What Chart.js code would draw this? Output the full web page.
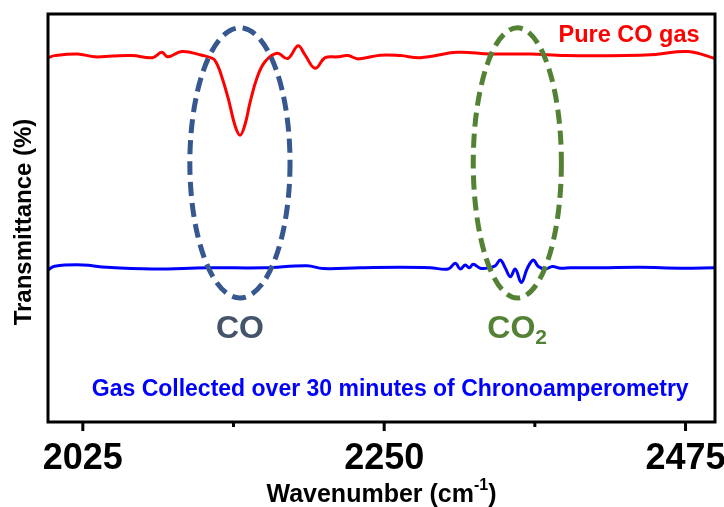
<!DOCTYPE html>
<html>
<head>
<meta charset="utf-8">
<script src="https://cdn.jsdelivr.net/npm/chart.js@4.4.0/dist/chart.umd.min.js"></script>
<style>
  body { margin: 0; background: #fff; }
  canvas { display: block; }
</style>
</head>
<body>
<canvas id="ftirChart" width="724" height="507"></canvas>
<script>
// Pure CO gas spectrum (red)
const redWavenumber = [1999, 2004, 2021, 2034, 2047, 2062, 2077, 2084, 2088.5, 2099, 2114, 2122, 2124.5, 2127.5, 2133.5, 2138.5, 2142.4, 2146, 2150, 2155, 2161, 2170, 2178, 2185.7, 2191, 2198.4, 2206, 2215, 2223, 2230.6, 2247, 2262, 2277, 2304.6, 2329, 2359, 2385, 2430, 2452.6, 2477, 2497];
const redValues = [89.3, 89.8, 90.2, 89.5, 89.7, 89.8, 89.3, 90.6, 89.5, 90.8, 89.9, 89.1, 88.2, 85.9, 79.4, 72.8, 70.3, 72.8, 78.5, 84.3, 88.3, 90.4, 89.1, 92.2, 89.9, 86.7, 89.3, 89.5, 89.8, 89.0, 89.9, 89.8, 89.3, 90.6, 90.2, 90.2, 89.8, 89.8, 90.1, 90.8, 89.1];

// Gas collected over 30 minutes (blue)
const blueWavenumber = [1999, 2004, 2025, 2043, 2077, 2118, 2160, 2192.4, 2204.4, 2232, 2262, 2284.4, 2297.8, 2303.1, 2306.8, 2310.5, 2313.5, 2316.5, 2321.8, 2327.7, 2333, 2336.7, 2340.5, 2344.2, 2347.9, 2352.4, 2356.9, 2361.4, 2365.1, 2370.3, 2375.6, 2381.6, 2389, 2411.5, 2441.4, 2471.3, 2497];
const blueValues = [37.3, 38.2, 38.5, 37.9, 37.5, 37.8, 37.8, 38.3, 37.6, 37.8, 37.9, 37.8, 37.5, 38.9, 37.5, 38.5, 37.8, 38.65, 37.7, 37.75, 38.3, 39.7, 37.7, 35.6, 37.5, 34.2, 37.7, 39.7, 38.1, 37.5, 38.1, 37.7, 37.8, 37.8, 37.9, 37.7, 37.8];

// x axis ticks
const majorTicks = [2025, 2250, 2475];
const majorTickLabels = ['2025', '2250', '2475'];
const minorTicks = [2137.5, 2362.5];

// annotations (in data units)
const coEllipse = { cx: 2142.3, cy: 63.5, rx: 37.4, ry: 33.1, color: '#36578f' };
const co2Ellipse = { cx: 2349.4, cy: 63.5, rx: 32.9, ry: 33.1, color: '#548235' };

const toPoints = (xs, ys) => xs.map((x, i) => ({ x: x, y: ys[i] }));

const SANS = '"Liberation Sans", Arial, sans-serif';
const NARROW = '"Liberation Sans Narrow", "Liberation Sans", sans-serif';

// Frame, ticks, ellipses and labels
const decorPlugin = {
  id: 'decor',
  afterDatasetsDraw(chart) {
    const ctx = chart.ctx;
    const area = chart.chartArea;
    const xs = chart.scales.x;
    const ys = chart.scales.y;

    ctx.save();
    // dashed ellipses
    [coEllipse, co2Ellipse].forEach(e => {
      const cx = xs.getPixelForValue(e.cx);
      const cy = ys.getPixelForValue(e.cy);
      const rx = Math.abs(xs.getPixelForValue(e.cx + e.rx) - cx);
      const ry = Math.abs(ys.getPixelForValue(e.cy + e.ry) - cy);
      ctx.beginPath();
      ctx.setLineDash([14, 7]);
      ctx.lineWidth = 5;
      ctx.strokeStyle = e.color;
      ctx.ellipse(cx, cy, rx, ry, 0, 0, Math.PI * 2);
      ctx.stroke();
    });
    ctx.setLineDash([]);

    // frame
    ctx.lineWidth = 3;
    ctx.strokeStyle = '#000';
    ctx.strokeRect(area.left, area.top, area.right - area.left, area.bottom - area.top);

    // ticks + tick labels
    ctx.fillStyle = '#000';
    ctx.font = 'bold 36px ' + NARROW;
    ctx.textAlign = 'center';
    ctx.textBaseline = 'alphabetic';
    majorTicks.forEach((v, i) => {
      const px = xs.getPixelForValue(v);
      ctx.beginPath();
      ctx.moveTo(px, area.bottom);
      ctx.lineTo(px, area.bottom + 9);
      ctx.stroke();
      ctx.fillText(majorTickLabels[i], px, area.bottom + 47);
    });
    minorTicks.forEach(v => {
      const px = xs.getPixelForValue(v);
      ctx.beginPath();
      ctx.moveTo(px, area.bottom);
      ctx.lineTo(px, area.bottom + 5);
      ctx.stroke();
    });

    // text labels
    ctx.fillStyle = '#ff0000';
    ctx.font = 'bold 23.5px ' + SANS;
    ctx.textAlign = 'right';
    ctx.fillText('Pure CO gas', xs.getPixelForValue(2485.5), ys.getPixelForValue(93.1));

    ctx.fillStyle = '#0000ff';
    ctx.font = 'bold 23px ' + SANS;
    ctx.textAlign = 'center';
    ctx.fillText('Gas Collected over 30 minutes of Chronoamperometry', xs.getPixelForValue(2254.5), ys.getPixelForValue(6.3));

    ctx.fillStyle = '#44546a';
    ctx.font = 'bold 32px ' + SANS;
    ctx.fillText('CO', xs.getPixelForValue(coEllipse.cx), ys.getPixelForValue(20.5));

    ctx.fillStyle = '#548235';
    ctx.textAlign = 'left';
    const coW = ctx.measureText('CO').width;
    const co2X = xs.getPixelForValue(co2Ellipse.cx) - (coW + 12) / 2;
    const co2Y = ys.getPixelForValue(20.5);
    ctx.fillText('CO', co2X, co2Y);
    ctx.font = 'bold 21px ' + SANS;
    ctx.fillText('2', co2X + coW, co2Y + 6);

    // axis titles
    ctx.fillStyle = '#000';
    ctx.font = 'bold 24px ' + SANS;
    ctx.textAlign = 'center';
    ctx.textBaseline = 'middle';
    ctx.save();
    ctx.translate(24, (area.top + area.bottom) / 2 + 4);
    ctx.rotate(-Math.PI / 2);
    ctx.fillText('Transmittance (%)', 0, 0);
    ctx.restore();

    ctx.textBaseline = 'alphabetic';
    ctx.textAlign = 'left';
    const mainText = 'Wavenumber (cm';
    ctx.font = 'bold 25px ' + NARROW;
    const mainW = ctx.measureText(mainText).width;
    ctx.font = 'bold 16px ' + NARROW;
    const supW = ctx.measureText('-1').width;
    ctx.font = 'bold 25px ' + NARROW;
    const closeW = ctx.measureText(')').width;
    const startX = (area.left + area.right) / 2 - (mainW + supW + closeW) / 2;
    const baseY = 502;
    ctx.fillText(mainText, startX, baseY);
    ctx.font = 'bold 16px ' + NARROW;
    ctx.fillText('-1', startX + mainW, baseY - 12);
    ctx.font = 'bold 25px ' + NARROW;
    ctx.fillText(')', startX + mainW + supW, baseY);
    ctx.restore();
  }
};

const ctx = document.getElementById('ftirChart').getContext('2d');

const ftirChart = new Chart(ctx, {
  type: 'line',
  data: {
    datasets: [{
      label: 'Pure CO gas',
      data: toPoints(redWavenumber, redValues),
      borderColor: '#ff0000',
      borderWidth: 3,
      pointRadius: 0,
      tension: 0.4,
      fill: false
    }, {
      label: 'Gas Collected over 30 minutes of Chronoamperometry',
      data: toPoints(blueWavenumber, blueValues),
      borderColor: '#0000ff',
      borderWidth: 3,
      pointRadius: 0,
      tension: 0.4,
      fill: false
    }]
  },
  options: {
    responsive: false,
    animation: false,
    devicePixelRatio: 1,
    plugins: {
      legend: { display: false },
      tooltip: { enabled: false }
    },
    layout: {
      padding: { top: 14, right: 9, left: 0, bottom: 0 }
    },
    scales: {
      x: {
        type: 'linear',
        min: 1999,
        max: 2497,
        afterFit: scale => { scale.height = 85; },
        grid: { display: false, drawTicks: false },
        border: { display: false },
        ticks: { display: false }
      },
      y: {
        min: 0,
        max: 100,
        afterFit: scale => { scale.width = 48; },
        grid: { display: false, drawTicks: false },
        border: { display: false },
        ticks: { display: false }
      }
    }
  },
  plugins: [decorPlugin]
});
</script>
</body>
</html>
